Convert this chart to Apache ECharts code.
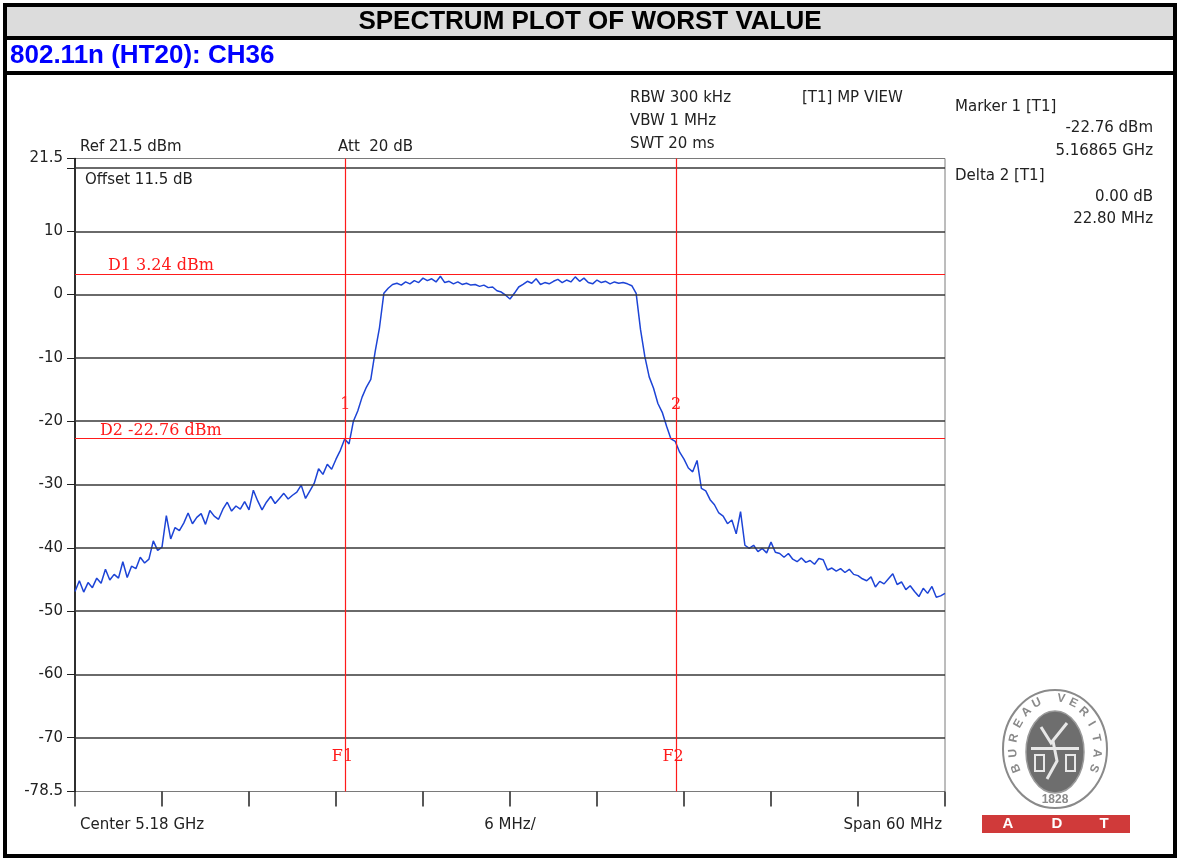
<!DOCTYPE html>
<html>
<head>
<meta charset="utf-8">
<title>Spectrum plot of worst value</title>
<script src="https://cdn.jsdelivr.net/npm/echarts@6/dist/echarts.min.js"></script>
<style>
    html, body { margin: 0; padding: 0; background: #fff; }
    #main { width: 1177px; height: 860px; }
</style>
</head>
<body>
<div id="main"></div>
<script>
// trace, one point every 0.3 MHz from 5.15 GHz (dBm)
var traceDbm = [
    -46.9, -45.2, -47.0, -45.5, -46.3, -44.8, -45.6, -43.4, -45.1, -44.2,
    -44.8, -42.2, -44.7, -42.9, -43.3, -41.5, -42.4, -41.8, -38.9, -40.4,
    -39.9, -34.9, -38.6, -36.8, -37.3, -36.1, -34.5, -36.2, -35.2, -34.6,
    -36.3, -34.1, -35.0, -35.5, -33.9, -32.8, -34.2, -33.4, -33.9, -32.7,
    -34.0, -30.9, -32.6, -34.0, -32.8, -31.9, -33.0, -32.2, -31.4, -32.3,
    -31.7, -31.2, -30.1, -32.2, -31.0, -29.8, -27.5, -28.4, -26.8, -27.6,
    -26.0, -24.6, -22.8, -23.6, -20.0, -18.4, -16.2, -14.6, -13.4, -9.0,
    -5.2, 0.2, 1.0, 1.6, 1.8, 1.5, 2.0, 1.7, 2.2, 1.9,
    2.6, 2.2, 2.5, 2.0, 2.9, 1.9, 2.1, 1.7, 2.0, 1.6,
    1.8, 1.5, 1.6, 1.3, 1.5, 1.1, 1.2, 0.6, 0.4, -0.1,
    -0.7, 0.2, 1.2, 1.6, 2.1, 1.8, 2.5, 1.6, 1.9, 1.7,
    2.1, 2.4, 1.9, 2.3, 2.0, 2.8, 2.1, 2.6, 1.9, 1.7,
    2.3, 1.9, 2.1, 1.7, 2.0, 1.8, 1.9, 1.7, 1.4, 0.2,
    -5.5, -9.8, -13.0, -14.8, -17.2, -18.6, -20.8, -22.8, -23.2, -24.9,
    -26.0, -27.4, -28.0, -26.2, -30.6, -31.0, -32.4, -33.2, -34.5, -35.0,
    -36.2, -35.6, -37.8, -34.3, -39.6, -40.1, -39.6, -40.6, -40.1, -40.8,
    -39.1, -40.7, -40.9, -41.5, -40.9, -41.8, -42.2, -41.6, -42.3, -42.0,
    -42.6, -41.7, -41.9, -43.5, -43.2, -43.7, -43.3, -43.9, -43.4, -44.2,
    -44.4, -44.9, -45.2, -44.6, -46.2, -45.3, -45.7, -44.9, -44.1, -45.8,
    -45.4, -46.6, -46.0, -46.9, -47.7, -46.4, -47.2, -46.1, -47.8, -47.6,
    -47.2
];
var pointStepMHz = 0.3;
var spanMHz = 60;
var divMHz = 6;

var yTickValues = [21.5, 20, 10, 0, -10, -20, -30, -40, -50, -60, -70, -78.5];
var yLabelValues = [21.5, 10, 0, -10, -20, -30, -40, -50, -60, -70, -78.5];
var gridLevels = [20, 10, 0, -10, -20, -30, -40, -50, -60, -70];

var displayLines = [
    { name: 'D1 3.24 dBm', level: 3.24 },
    { name: 'D2 -22.76 dBm', level: -22.76 }
];
var freqLines = [
    { name: 'F1', freq: 18.65 },
    { name: 'F2', freq: 41.45 }
];
var markers = [
    { name: '1', freq: 18.65, level: -22.76 },
    { name: '2', freq: 41.45, level: -22.76 }
];
var footLabels = ['Center 5.18 GHz', '6 MHz/', 'Span 60 MHz'];

var setupLines = [
    { text: 'RBW 300 kHz', x: 630, y: 98 },
    { text: 'VBW 1 MHz', x: 630, y: 121 },
    { text: 'SWT 20 ms', x: 630, y: 144 },
    { text: '[T1] MP VIEW', x: 802, y: 98 },
    { text: 'Ref 21.5 dBm', x: 80, y: 147 },
    { text: 'Att  20 dB', x: 338, y: 147 },
    { text: 'Offset 11.5 dB', x: 85, y: 180 },
    { text: 'Marker 1 [T1]', x: 955, y: 107 },
    { text: 'Delta 2 [T1]', x: 955, y: 176 }
];
var markerReadout = [
    { text: '-22.76 dBm', y: 128 },
    { text: '5.16865 GHz', y: 151 },
    { text: '0.00 dB', y: 197 },
    { text: '22.80 MHz', y: 219 }
];

var SANS = '15px "DejaVu Sans"';
var SERIF = '16px "DejaVu Serif"';
var RED = '#ff1a1a';

var chart = echarts.init(document.getElementById('main'));

var traceData = traceDbm.map(function (v, i) {
    return [i * pointStepMHz, v];
});

var gridMarks = gridLevels.map(function (v) {
    return { yAxis: v, lineStyle: { color: '#383838', width: 1.6, type: 'solid' } };
});
var redMarks = displayLines.map(function (d) {
    return { yAxis: d.level, lineStyle: { color: RED, width: 1.2, type: 'solid' } };
}).concat(freqLines.map(function (f) {
    return { xAxis: f.freq, lineStyle: { color: RED, width: 1.2, type: 'solid' } };
}));

chart.setOption({
    animation: false,
    grid: {
        left: 75, right: 232, top: 158.5, bottom: 68.5,
        show: true, borderColor: '#7a7a7a', borderWidth: 1, backgroundColor: 'transparent'
    },
    xAxis: {
        type: 'value', min: 0, max: spanMHz, interval: divMHz,
        axisLine: { show: false, onZero: false },
        axisTick: { show: true, length: 15, lineStyle: { color: '#222', width: 1.5 } },
        axisLabel: { show: false },
        splitLine: { show: false }
    },
    yAxis: {
        type: 'value', min: -78.5, max: 21.5,
        axisLine: { show: true, onZero: false, lineStyle: { color: '#000', width: 1.5 } },
        axisTick: { show: true, customValues: yTickValues, length: 8, lineStyle: { color: '#222' } },
        axisLabel: {
            customValues: yLabelValues, margin: 12,
            fontSize: 15, fontFamily: 'DejaVu Sans', color: '#222'
        },
        splitLine: { show: false }
    },
    series: [
        {
            type: 'line', data: [], z: 1,
            markLine: { silent: true, symbol: 'none', animation: false, label: { show: false }, data: gridMarks }
        },
        {
            type: 'line', data: traceData, z: 2,
            symbol: 'none', showSymbol: false,
            lineStyle: { color: '#1d44d6', width: 1.5 }
        },
        {
            type: 'line', data: [], z: 3,
            markLine: { silent: true, symbol: 'none', animation: false, label: { show: false }, data: redMarks }
        }
    ]
});

function px(x, y) {
    return chart.convertToPixel({ gridIndex: 0 }, [x, y]);
}

function txt(text, x, y, font, fill, align) {
    return {
        type: 'text', x: x, y: y, z: 10,
        style: { text: text, font: font, fill: fill, align: align || 'left', verticalAlign: 'middle' }
    };
}

var g = [];

// page frame, title and subtitle rows
g.push({ type: 'rect', z: 0, shape: { x: 7, y: 7, width: 1166, height: 29 }, style: { fill: '#dcdcdc' } });
g.push({ type: 'rect', z: 1, shape: { x: 5, y: 5, width: 1170, height: 851 }, style: { fill: null, stroke: '#000', lineWidth: 4 } });
g.push({ type: 'rect', z: 1, shape: { x: 5, y: 36, width: 1170, height: 4 }, style: { fill: '#000' } });
g.push({ type: 'rect', z: 1, shape: { x: 5, y: 71, width: 1170, height: 4 }, style: { fill: '#000' } });
g.push(txt('SPECTRUM PLOT OF WORST VALUE', 590, 22, 'bold 26px "Liberation Sans"', '#000', 'center'));
g.push(txt('802.11n (HT20): CH36', 10, 56, 'bold 26px "Liberation Sans"', '#0000ff'));

// instrument settings and marker readout
setupLines.forEach(function (s) {
    g.push(txt(s.text, s.x, s.y, SANS, '#222'));
});
markerReadout.forEach(function (s) {
    g.push(txt(s.text, 1153, s.y, SANS, '#222', 'right'));
});

// frequency axis captions
var left = px(0, -78.5), mid = px(spanMHz / 2, -78.5), right = px(spanMHz, -78.5);
g.push(txt(footLabels[0], left[0] + 5, 825, SANS, '#222'));
g.push(txt(footLabels[1], mid[0], 825, SANS, '#222', 'center'));
g.push(txt(footLabels[2], right[0] - 3, 825, SANS, '#222', 'right'));

// red display line / frequency line / marker labels
displayLines.forEach(function (d, i) {
    var p = px(0, d.level);
    g.push(txt(d.name, p[0] + (i === 0 ? 33 : 25), p[1] - 8, SERIF, RED));
});
freqLines.forEach(function (f) {
    var p = px(f.freq, -73);
    g.push(txt(f.name, p[0] - 3, p[1], SERIF, RED, 'center'));
});
markers.forEach(function (m) {
    var p = px(m.freq, m.level);
    g.push(txt(m.name, p[0], p[1] - 34, SERIF, RED, 'center'));
});

// Bureau Veritas / ADT logo
var cx = 1055, cy = 749;
g.push({ type: 'ellipse', z: 5, shape: { cx: cx, cy: cy, rx: 52, ry: 59 }, style: { fill: '#fff', stroke: '#8a8a8a', lineWidth: 2 } });
g.push({ type: 'ellipse', z: 5, shape: { cx: cx, cy: cy + 3, rx: 29, ry: 41 }, style: { fill: '#6e6e6e', stroke: '#9a9a9a', lineWidth: 1.5 } });
g.push({ type: 'polyline', z: 6, shape: { points: [[cx - 14, cy - 22], [cx - 4, cy - 6], [cx + 12, cy - 26]] }, style: { stroke: '#e8e8e8', lineWidth: 3, fill: null } });
g.push({ type: 'polyline', z: 6, shape: { points: [[cx - 2, cy - 8], [cx + 2, cy + 12], [cx - 8, cy + 30]] }, style: { stroke: '#e8e8e8', lineWidth: 3, fill: null } });
g.push({ type: 'rect', z: 6, shape: { x: cx - 24, y: cy - 2, width: 48, height: 3 }, style: { fill: '#e8e8e8' } });
g.push({ type: 'rect', z: 6, shape: { x: cx - 20, y: cy + 6, width: 9, height: 16 }, style: { fill: null, stroke: '#e8e8e8', lineWidth: 2 } });
g.push({ type: 'rect', z: 6, shape: { x: cx + 11, y: cy + 6, width: 9, height: 16 }, style: { fill: null, stroke: '#e8e8e8', lineWidth: 2 } });
var ring = 'BUREAU VERITAS'.split('');
ring.forEach(function (ch, i) {
    var th = (-112 + i * (224 / (ring.length - 1))) * Math.PI / 180;
    g.push({
        type: 'text', z: 7,
        x: cx + 42 * Math.sin(th), y: cy - 51 * Math.cos(th), rotation: -th,
        style: { text: ch, font: 'bold 12px "Liberation Sans"', fill: '#8a8a8a', align: 'center', verticalAlign: 'middle' }
    });
});
g.push(txt('1828', cx, cy + 51, 'bold 12px "Liberation Sans"', '#8a8a8a', 'center'));
g.push({ type: 'rect', z: 5, shape: { x: 982, y: 815, width: 148, height: 18 }, style: { fill: '#d03a3a' } });
g.push(txt('A', 1008, 824, 'bold 15px "Liberation Sans"', '#fff', 'center'));
g.push(txt('D', 1057, 824, 'bold 15px "Liberation Sans"', '#fff', 'center'));
g.push(txt('T', 1104, 824, 'bold 15px "Liberation Sans"', '#fff', 'center'));

chart.setOption({ graphic: { elements: g } });
</script>
</body>
</html>
